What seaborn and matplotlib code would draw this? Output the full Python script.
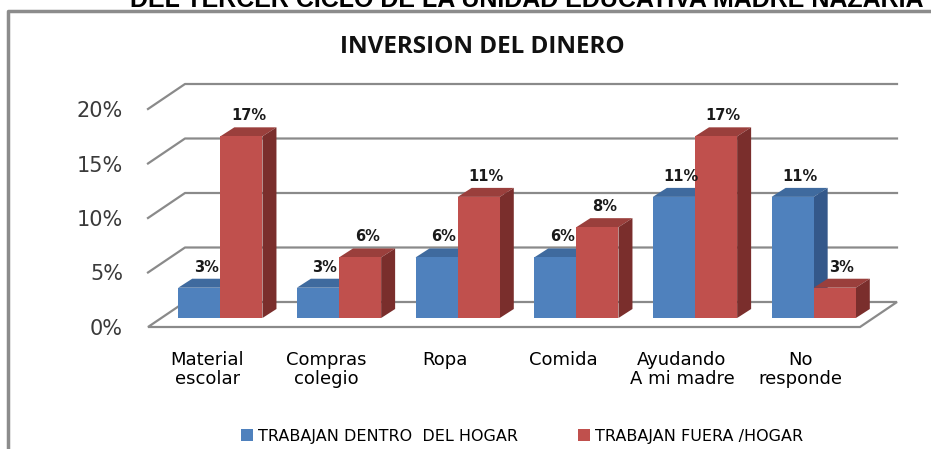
import numpy as np
import pandas as pd
import matplotlib
matplotlib.use("Agg")
import matplotlib.pyplot as plt
import seaborn as sns
from matplotlib.patches import Polygon, Patch
from matplotlib.lines import Line2D
from matplotlib.transforms import ScaledTranslation, IdentityTransform

categorias = ["Material\nescolar", "Compras\ncolegio", "Ropa", "Comida",
              "Ayudando\nA mi madre", "No\nresponde"]
series = ["TRABAJAN DENTRO  DEL HOGAR", "TRABAJAN FUERA /HOGAR"]
dentro = [1/36, 1/36, 2/36, 2/36, 4/36, 4/36]
fuera = [6/36, 2/36, 4/36, 3/36, 6/36, 1/36]
yticks = [0, 0.05, 0.10, 0.15, 0.20]
ytick_labels = ["0%", "5%", "10%", "15%", "20%"]

front_colors = ["#4F81BD", "#C0504D"]
top_colors = ["#3F6A9E", "#9A3F3C"]
side_colors = ["#34588A", "#7A2E2C"]
grid_color = "#8A8A8A"

df = pd.DataFrame({
    "cat": categorias * 2,
    "serie": [series[0]] * len(categorias) + [series[1]] * len(categorias),
    "val": dentro + fuera,
})

W, H = 931, 449
fig = plt.figure(figsize=(W / 100, H / 100), dpi=100)
# bar plane: x 161..873 px, y 0% at 318 px, 20% at 100 px (from top)
ax = fig.add_axes([161 / W, (H - 318) / H, 712 / W, 218 / H])

sns.barplot(data=df, x="cat", y="val", hue="serie", palette=front_colors,
            width=0.71, saturation=1, ax=ax, legend=False, errorbar=None)
ax.set_xlim(-0.5, len(categorias) - 0.5)
ax.set_ylim(0, 0.2)
for s in ax.spines.values():
    s.set_visible(False)
ax.set_xlabel("")
ax.set_ylabel("")

# pixel offsets of the front plane, back wall and bar depth (display coords)
front_off = (-13, -9)
back_off = (24, 16)
depth = (14, 9)


def px(x, y, off=(0, 0)):
    p = ax.transData.transform((x, y))
    return (p[0] + off[0], p[1] + off[1])


xmin, xmax = ax.get_xlim()
ident = IdentityTransform()

# floor
floor = Polygon([px(xmin, 0, front_off), px(xmax, 0, front_off),
                 px(xmax, 0, back_off), px(xmin, 0, back_off)],
                closed=True, facecolor="white", edgecolor=grid_color,
                lw=1.6, transform=ident, zorder=0.5, clip_on=False)
ax.add_artist(floor)
# back wall gridlines + left wall diagonals
for t in yticks[1:]:
    pts = [px(xmin, t, front_off), px(xmin, t, back_off), px(xmax, t, back_off)]
    ax.add_artist(Line2D([p[0] for p in pts], [p[1] for p in pts],
                         color=grid_color, lw=1.6, transform=ident,
                         zorder=0.4, clip_on=False))

# 3D faces for bars
for i, cont in enumerate(ax.containers):
    for bar in cont:
        x0 = bar.get_x()
        x1 = x0 + bar.get_width()
        h = bar.get_height()
        fl, fr = px(x0, h), px(x1, h)
        br = px(x1, 0)
        top = Polygon([fl, fr, (fr[0] + depth[0], fr[1] + depth[1]),
                       (fl[0] + depth[0], fl[1] + depth[1])],
                      closed=True, facecolor=top_colors[i], edgecolor="none",
                      transform=ident, zorder=1 + 2 * i, clip_on=False)
        side = Polygon([br, fr, (fr[0] + depth[0], fr[1] + depth[1]),
                        (br[0] + depth[0], br[1] + depth[1])],
                       closed=True, facecolor=side_colors[i], edgecolor="none",
                       transform=ident, zorder=1 + 2 * i, clip_on=False)
        ax.add_artist(top)
        ax.add_artist(side)
        bar.set_zorder(2 + 2 * i)
        bar.set_edgecolor("none")
        ax.annotate(f"{round(h * 100)}%", (bar.get_x() + bar.get_width() / 2, h),
                    xytext=(depth[0] * 0.72 * 0.5, depth[1] * 0.72 + 3),
                    textcoords="offset points", ha="center", va="bottom",
                    fontsize=10.5, fontweight="bold", family="DejaVu Sans",
                    color="#1a1a1a", zorder=10)

# ticks
ax.set_yticks(yticks)
ax.set_yticklabels(ytick_labels)
ax.tick_params(axis="y", length=0, pad=18, labelsize=15, labelcolor="#3a3a3a")
ax.tick_params(axis="x", length=0, pad=17, labelsize=13, labelcolor="black")
shift = ScaledTranslation(front_off[0] / 100, front_off[1] / 100, fig.dpi_scale_trans)
for lab in ax.get_yticklabels():
    lab.set_transform(lab.get_transform() + shift)
    lab.set_family("DejaVu Sans")
for lab in ax.get_xticklabels():
    lab.set_transform(lab.get_transform() + shift)
    lab.set_family("DejaVu Sans")
    lab.set_linespacing(1.1)

# titles
fig.text(482 / W, (H - 47) / H, "INVERSION DEL DINERO", ha="center", va="center",
         fontsize=17.5, fontweight="bold", family="Open Sans", color="#111111")
fig.text(130 / W, (H - 7) / H, "DEL TERCER CICLO DE LA UNIDAD EDUCATIVA MADRE NAZARIA",
         ha="left", va="baseline", fontsize=18, fontweight="bold",
         family="Liberation Sans", color="black")

# outer frame (left and top visible)
fig.add_artist(Line2D([8 / W, 8 / W, 1.0], [0.0, (H - 11) / H, (H - 11) / H],
                      transform=fig.transFigure, color="#8C8C8C", lw=2.5))

# legend
handles = [Patch(facecolor=c, edgecolor="none") for c in front_colors]
fig.legend(handles, series, loc="center", bbox_to_anchor=(522 / W, (H - 436) / H),
           ncol=2, frameon=False, handlelength=0.75, handleheight=0.7,
           handletextpad=0.3, columnspacing=3.8,
           prop={"family": "DejaVu Sans", "size": 11.5})

fig.savefig("out.png", dpi=100)
